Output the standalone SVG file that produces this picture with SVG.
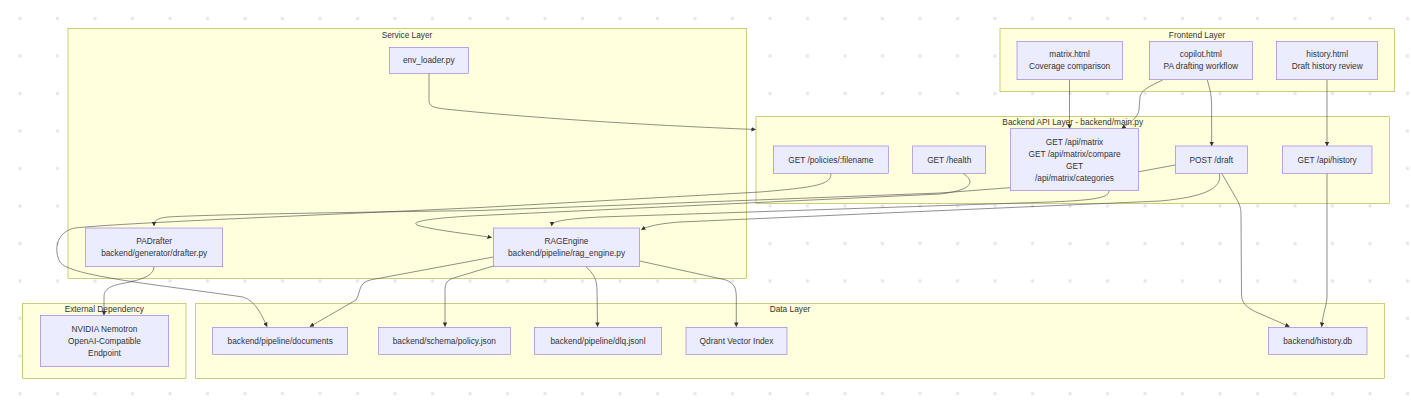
<svg xmlns="http://www.w3.org/2000/svg" width="1411" height="400" viewBox="0 0 1411 400">
<style>
.cl{fill:#ffffde;stroke:#aaaa33;stroke-width:0.6}
.nd{fill:#ececff;stroke:#9370db;stroke-width:0.6}
.t{font-family:"Liberation Sans",Arial,sans-serif;font-size:8.3px;fill:#333;text-anchor:middle}
.e{fill:none;stroke:#444;stroke-width:0.6}
</style>
<defs>
<pattern id="dots" x="0" y="0" width="37.5" height="37.5" patternUnits="userSpaceOnUse">
<rect x="18.5" y="17" width="3" height="3" fill="#e4e4e4"/>
</pattern>
<marker id="arr" viewBox="0 0 10 10" refX="9" refY="5" markerWidth="4.5" markerHeight="4.5" markerUnits="userSpaceOnUse" orient="auto">
<path d="M0,0 L10,5 L0,10 z" fill="#333"/>
</marker>
</defs>
<rect width="1411" height="400" fill="#fff"/>
<rect width="1411" height="400" fill="url(#dots)"/>

<g id="clusters">
<g id="service-layer"><rect class="cl" x="68" y="28.3" width="678.3" height="250"/><text class="t" x="407" y="38">Service Layer</text></g>
<g id="frontend-layer"><rect class="cl" x="1000" y="28.7" width="394.3" height="63"/><text class="t" x="1197" y="38">Frontend Layer</text></g>
<g id="backend-api-layer"><rect class="cl" x="756" y="116.7" width="633.3" height="86.6"/><text class="t" x="1072.7" y="125">Backend API Layer - backend/main.py</text></g>
<g id="external-dependency"><rect class="cl" x="22.7" y="303.3" width="163.3" height="75"/><text class="t" x="104.3" y="312">External Dependency</text></g>
<g id="data-layer"><rect class="cl" x="195.7" y="303.3" width="1188.6" height="75"/><text class="t" x="790" y="312">Data Layer</text></g>
</g>

<g id="connectors">
<path class="e" marker-end="url(#arr)" d="M429,73.3 L429,100 C429,106 432,107.5 445,109 C520,117 640,125 755.5,129.5"/>
<path class="e" marker-end="url(#arr)" d="M1069.5,79.7 L1069.5,128.5"/>
<path class="e" marker-end="url(#arr)" d="M1162.7,80 C1150,86 1141,90 1140,97 L1139,110 C1138,118 1128,124 1121.7,128.5"/>
<path class="e" marker-end="url(#arr)" d="M1207.3,80 C1210,90 1211.6,95 1211.6,105 L1211.7,145.8"/>
<path class="e" marker-end="url(#arr)" d="M1327,79.7 L1327,145.8"/>
<path class="e" marker-end="url(#arr)" d="M831,173.3 C831,184 820,187 760,192 L480,207.5 C300,216 120,223 75,228 C55,232 54,252 60,262 C68,276 160,285 243,297 C256,301 262,316 267,326.5"/>
<path class="e" marker-end="url(#arr)" d="M963,173.3 C975,181 974,190 940,194 L480,215.5 C430,218 405,222 420,226 C440,231 470,234 491.5,237.5"/>
<path class="e" marker-end="url(#arr)" d="M1175.3,165 L1139,171.7 L1010,187.7 L940,193 L480,210.5 C300,213 200,215 168,217 C158,218 154,220 154,225.8"/>
<path class="e" marker-end="url(#arr)" d="M1109,190.7 C1109,197 1100,200 1050,202 L600,217 C565,219 552,221 551.7,225.8"/>
<path class="e" marker-end="url(#arr)" d="M1219.3,173.3 C1223,188 1205,197 1160,201 L680,222 C655,224 646,227 641.5,229.8"/>
<path class="e" marker-end="url(#arr)" d="M1221.7,173.3 L1236,198 C1240,205 1241,208 1241,215 L1241.5,294 C1241.5,303 1246,307 1256,312 L1289.3,326.5"/>
<path class="e" marker-end="url(#arr)" d="M1327,173.3 L1327,296 C1327,305 1323,312 1321.7,326.5"/>
<path class="e" marker-end="url(#arr)" d="M493.3,257 L370,280 C358,283 361,292 356,300 L310,326.5"/>
<path class="e" marker-end="url(#arr)" d="M493.3,266 L452,278.5 C446,281 445,285 445,291 L445,326.5"/>
<path class="e" marker-end="url(#arr)" d="M586,266.7 C594,274 597,280 597,290 L597.5,326.5"/>
<path class="e" marker-end="url(#arr)" d="M639.7,261 L726,280 C734,283 736.3,288 736.3,297 L736.3,326.5"/>
<path class="e" marker-end="url(#arr)" d="M154,266.7 C154,276 140,280 125,283 C108,286 104,290 104,297 L104,315"/>
</g>

<g id="env-loader"><rect class="nd" x="389.3" y="47.3" width="79" height="26"/><text class="t" x="428.8" y="63.3">env_loader.py</text></g>
<g id="matrix-html"><rect class="nd" x="1017" y="41.3" width="105.3" height="38.4"/><text class="t" x="1069.6" y="57">matrix.html</text><text class="t" x="1069.6" y="69">Coverage comparison</text></g>
<g id="copilot-html"><rect class="nd" x="1149.3" y="41.3" width="103" height="38.4"/><text class="t" x="1200.8" y="57">copilot.html</text><text class="t" x="1200.8" y="69">PA drafting workflow</text></g>
<g id="history-html"><rect class="nd" x="1276.7" y="41.3" width="101" height="38.4"/><text class="t" x="1327.2" y="57">history.html</text><text class="t" x="1327.2" y="69">Draft history review</text></g>
<g id="api-policies"><rect class="nd" x="773.3" y="146" width="115" height="27.3"/><text class="t" x="830.8" y="162.7">GET /policies/:filename</text></g>
<g id="api-health"><rect class="nd" x="912.7" y="146" width="73" height="27.3"/><text class="t" x="949.2" y="162.7">GET /health</text></g>
<g id="api-matrix"><rect class="nd" x="1010.3" y="128.7" width="128.4" height="62"/><text class="t" x="1074.5" y="145.3">GET /api/matrix</text><text class="t" x="1074.5" y="157.3">GET /api/matrix/compare</text><text class="t" x="1074.5" y="169.3">GET</text><text class="t" x="1074.5" y="181.3">/api/matrix/categories</text></g>
<g id="api-draft"><rect class="nd" x="1175.3" y="146" width="72" height="27.3"/><text class="t" x="1211.3" y="162.7">POST /draft</text></g>
<g id="api-history"><rect class="nd" x="1282.3" y="146" width="89.7" height="27.3"/><text class="t" x="1327.1" y="162.7">GET /api/history</text></g>
<g id="padrafter"><rect class="nd" x="85.7" y="228" width="137" height="38.7"/><text class="t" x="154.2" y="243.7">PADrafter</text><text class="t" x="154.2" y="256.1">backend/generator/drafter.py</text></g>
<g id="ragengine"><rect class="nd" x="493.3" y="228" width="146.4" height="38.7"/><text class="t" x="566.5" y="243.7">RAGEngine</text><text class="t" x="566.5" y="256.1">backend/pipeline/rag_engine.py</text></g>
<g id="nvidia"><rect class="nd" x="40.3" y="315.3" width="128.4" height="51.4"/><text class="t" x="104.5" y="332.3">NVIDIA Nemotron</text><text class="t" x="104.5" y="344.3">OpenAI-Compatible</text><text class="t" x="104.5" y="356.3">Endpoint</text></g>
<g id="documents"><rect class="nd" x="212.7" y="327.3" width="135" height="27"/><text class="t" x="280.2" y="343.8">backend/pipeline/documents</text></g>
<g id="policy-json"><rect class="nd" x="378.3" y="327.3" width="132" height="27"/><text class="t" x="444.3" y="343.8">backend/schema/policy.json</text></g>
<g id="dlq-jsonl"><rect class="nd" x="534.3" y="327.3" width="127.4" height="27"/><text class="t" x="598" y="343.8">backend/pipeline/dlq.jsonl</text></g>
<g id="qdrant"><rect class="nd" x="686" y="327.3" width="101" height="27"/><text class="t" x="736.5" y="343.8">Qdrant Vector Index</text></g>
<g id="history-db"><rect class="nd" x="1268.3" y="327.3" width="98.7" height="27"/><text class="t" x="1317.7" y="343.8">backend/history.db</text></g>
</svg>
